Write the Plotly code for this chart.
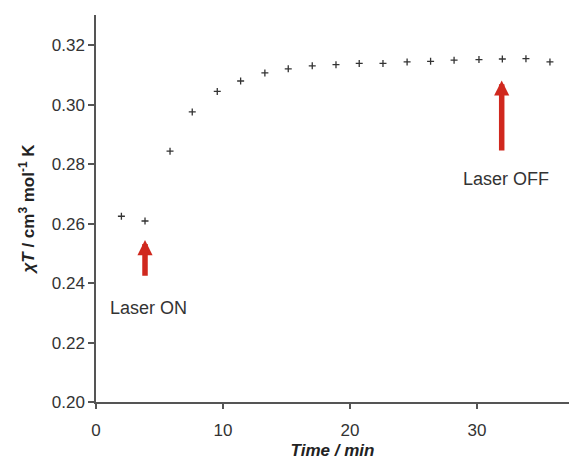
import plotly.graph_objects as go

time_min = [2.0, 3.86, 5.83, 7.58, 9.55, 11.39, 13.3, 15.14, 17.03, 18.9, 20.73,
            22.6, 24.5, 26.35, 28.2, 30.16, 32.0, 33.86, 35.75]
chiT = [0.2625, 0.2609, 0.2844, 0.2976, 0.3045, 0.3080, 0.3107, 0.3121, 0.3131,
        0.3135, 0.3139, 0.3139, 0.3144, 0.3146, 0.3150, 0.3152, 0.3154, 0.3155, 0.3144]

x_ticks = [0, 10, 20, 30]
y_ticks = [0.20, 0.22, 0.24, 0.26, 0.28, 0.30, 0.32]
y_ticklabels = ["0.20", "0.22", "0.24", "0.26", "0.28", "0.30", "0.32"]

annotations_text = ["Laser ON", "Laser OFF"]
arrow_x = [3.86, 31.95]
arrow_tip = [0.2545, 0.3082]
arrow_tail = [0.2420, 0.2841]
label_x = [4.1, 32.3]
label_y = [0.2316, 0.2750]

fig = go.Figure()
fig.add_trace(go.Scatter(
    x=time_min, y=chiT, mode="markers",
    marker=dict(symbol="cross-thin", size=5, color="#333333",
                line=dict(width=1.3, color="#333333")),
    showlegend=False,
))

font_family = "Liberation Sans, Arial, sans-serif"

anns = []
for i in range(2):
    anns.append(dict(
        x=arrow_x[i], y=arrow_tip[i], ax=arrow_x[i], ay=arrow_tail[i],
        xref="x", yref="y", axref="x", ayref="y",
        showarrow=True, arrowhead=2, arrowsize=0.55, arrowwidth=5.5,
        arrowcolor="#d0281e", text="",
    ))
    anns.append(dict(
        x=label_x[i], y=label_y[i], xref="x", yref="y", text=annotations_text[i],
        showarrow=False, font=dict(family=font_family, size=18, color="#333333"),
    ))

fig.update_layout(
    width=569, height=460,
    margin=dict(l=96, r=0, t=15, b=58),
    paper_bgcolor="white", plot_bgcolor="white",
    font=dict(family=font_family, color="#333333"),
    annotations=anns,
    xaxis=dict(
        range=[0, 37.25], tickmode="array", tickvals=x_ticks,
        showline=True, linecolor="#555555", linewidth=1.5,
        ticks="outside", ticklen=5, tickcolor="#555555", tickwidth=1.5,
        showgrid=False, zeroline=False, automargin=False,
        ticklabelstandoff=7,
        tickfont=dict(size=17, color="#333333"),
        title=dict(text="<b><i>Time / min</i></b>", font=dict(size=17, color="#222222"),
                   standoff=8),
    ),
    yaxis=dict(
        range=[0.20, 0.3302], tickmode="array", tickvals=y_ticks, ticktext=y_ticklabels,
        showline=True, linecolor="#555555", linewidth=1.5,
        ticks="outside", ticklen=6, tickcolor="#555555", tickwidth=1.5,
        showgrid=False, zeroline=False, automargin=False,
        tickfont=dict(size=17, color="#333333"),
        title=dict(text="<b><i>χT</i> / cm<sup>3</sup> mol<sup>-1</sup> K</b>",
                   font=dict(size=17, color="#222222"), standoff=13),
    ),
)

fig.write_html("out.html", config={"displayModeBar": False},
               post_script="document.body.style.margin='0';document.body.style.overflow='hidden';")
